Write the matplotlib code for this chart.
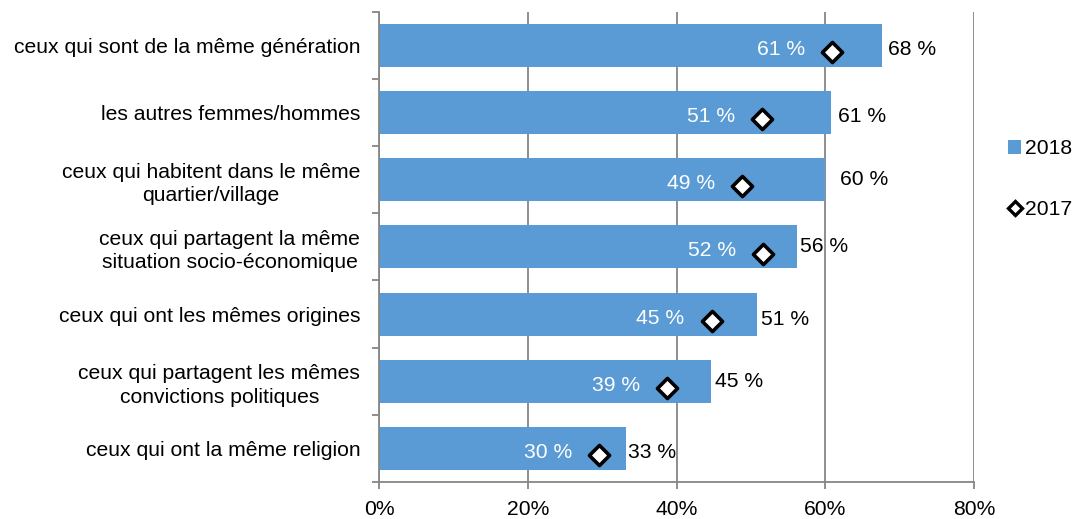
import matplotlib
matplotlib.use("Agg")
import matplotlib.pyplot as plt
from matplotlib.lines import Line2D
from matplotlib.patches import Patch
import numpy as np

plt.rcParams['font.family'] = ['Liberation Sans', 'DejaVu Sans']

categories = [
    "ceux qui sont de la même génération",
    "les autres femmes/hommes",
    "ceux qui habitent dans le même\nquartier/village",
    "ceux qui partagent la même\nsituation socio-économique",
    "ceux qui ont les mêmes origines",
    "ceux qui partagent les mêmes\nconvictions politiques",
    "ceux qui ont la même religion",
]
values_2018 = [67.6, 60.7, 60.0, 56.2, 50.8, 44.6, 33.2]
values_2017 = [60.9, 51.5, 48.8, 51.6, 44.7, 38.7, 29.6]
labels_2018 = ["68 %", "61 %", "60 %", "56 %", "51 %", "45 %", "33 %"]
labels_2017 = ["61 %", "51 %", "49 %", "52 %", "45 %", "39 %", "30 %"]
xticks = [0, 20, 40, 60, 80]
xticklabels = ["0%", "20%", "40%", "60%", "80%"]

bar_color = "#5B9BD5"
axis_color = "#868686"
fs = 15.2

fig = plt.figure(figsize=(10.8, 5.19), dpi=100)
ax = fig.add_axes([0.351, 0.0713, 0.5509, 0.906])

y = np.arange(len(categories))
ax.barh(y, values_2018, height=0.64, color=bar_color, zorder=2)
ax.scatter(values_2017, y + 0.1, marker="D", s=105, facecolor="white",
           edgecolor="black", linewidths=2.6, zorder=4)

label_dx = [0.8, 1.0, 2.0, 0.4, 0.6, 0.6, 0.3]
label_dy = [0.06, 0.06, 0.0, 0.0, 0.08, 0.0, 0.06]
for i in range(len(categories)):
    ax.annotate(labels_2017[i], (values_2017[i], y[i] + 0.06), xytext=(-19.5, 0),
                textcoords="offset points", ha="right", va="center",
                color="white", fontsize=fs, zorder=5)
    ax.text(values_2018[i] + label_dx[i], y[i] + label_dy[i], labels_2018[i],
            ha="left", va="center", color="black", fontsize=fs, zorder=5)

ax.set_xlim(0, 80)
ax.set_ylim(len(categories) - 0.5, -0.5)
ax.set_xticks(xticks)
ax.set_xticklabels(xticklabels, fontsize=fs)
ax.set_yticks(y)
ax.set_yticklabels(categories, fontsize=fs, multialignment="center",
                   linespacing=1.3)
ax.set_yticks(np.arange(-0.5, len(categories)), minor=True)
ax.tick_params(axis="y", which="major", length=0, pad=13.5)
ax.tick_params(axis="y", which="minor", length=5, color=axis_color, width=1.3)
ax.tick_params(axis="x", length=5, color=axis_color, width=1.3, pad=8)
ax.grid(axis="x", color=axis_color, linewidth=1.3, zorder=0)
ax.set_axisbelow(True)
for s in ["top", "right"]:
    ax.spines[s].set_visible(False)
for s in ["left", "bottom"]:
    ax.spines[s].set_color(axis_color)
    ax.spines[s].set_linewidth(1.3)

handles = [
    Patch(facecolor=bar_color, edgecolor="none"),
    Line2D([], [], marker="D", linestyle="none", markersize=7,
           markerfacecolor="white", markeredgecolor="black", markeredgewidth=2.4),
]
fig.legend(handles, ["2018", "2017"], loc="center left",
           bbox_to_anchor=(0.916, 0.655), frameon=False, fontsize=fs,
           handlelength=0.6, handletextpad=0.2, labelspacing=1.95,
           handleheight=0.6)

fig.savefig("out.png", dpi=100)
